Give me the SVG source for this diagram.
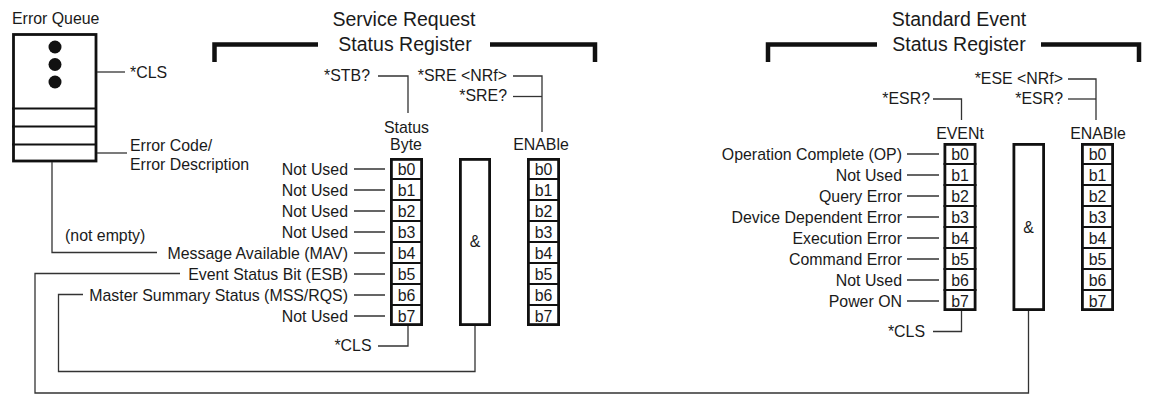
<svg xmlns="http://www.w3.org/2000/svg" width="1152" height="395" viewBox="0 0 1152 395">
  <style>
    text { font-family: "Liberation Sans", Arial, Helvetica, sans-serif; font-size: 15.9px; fill: #1a1a1a; }
    .title { font-size: 19.5px; text-anchor: middle; }
    .mid { text-anchor: middle; }
    .end { text-anchor: end; }
    .wire { fill: none; stroke: #333; stroke-width: 1.3; }
    .frame { fill: #fff; stroke: #111; stroke-width: 2.8; }
    .div { stroke: #111; stroke-width: 2.2; }
    .bracket { fill: none; stroke: #111; stroke-width: 4.5; stroke-linejoin: miter; stroke-linecap: butt; }
  </style>

  <!-- Error queue -->
  <g id="error-queue">
    <text x="12" y="24">Error Queue</text>
    <rect class="frame" x="13.5" y="34.5" width="82.5" height="126.5"/>
    <line class="div" x1="12" y1="108.5" x2="97" y2="108.5"/>
    <line class="div" x1="12" y1="126.5" x2="97" y2="126.5"/>
    <line class="div" x1="12" y1="144.5" x2="97" y2="144.5"/>
    <circle cx="55" cy="47" r="6.5" fill="#111"/>
    <circle cx="55" cy="64.5" r="6.5" fill="#111"/>
    <circle cx="55" cy="82" r="6.5" fill="#111"/>
    <text x="130" y="77.5">*CLS</text>
    <text x="130" y="150.5">Error Code/</text>
    <text x="130" y="169.5">Error Description</text>
    <text x="65" y="240.5">(not empty)</text>
  </g>

  <!-- Service Request Status Register -->
  <g id="sr-title">
    <text class="title" x="404" y="25.5">Service Request</text>
    <text class="title" x="405" y="51">Status Register</text>
    <path class="bracket" d="M214.5,62 V44.5 H318"/>
    <path class="bracket" d="M490,44.5 H595 V62"/>
  </g>

  <g id="sr-commands">
    <text class="end" x="370" y="80.5">*STB?</text>
    <text class="end" x="507" y="80.5">*SRE &lt;NRf&gt;</text>
    <text class="end" x="507" y="101">*SRE?</text>
    <text class="mid" x="406.5" y="132.5">Status</text>
    <text class="mid" x="406" y="150">Byte</text>
    <text class="mid" x="541" y="149.5">ENABle</text>
    <text class="end" x="371.5" y="351">*CLS</text>
  </g>

  <g id="sr-labels">
    <text class="end" x="348" y="174.5">Not Used</text>
    <text class="end" x="348" y="195.5">Not Used</text>
    <text class="end" x="348" y="216.5">Not Used</text>
    <text class="end" x="348" y="237.5">Not Used</text>
    <text class="end" x="348" y="258.5">Message Available (MAV)</text>
    <text class="end" x="348" y="279.5">Event Status Bit (ESB)</text>
    <text class="end" x="348" y="300.5">Master Summary Status (MSS/RQS)</text>
    <text class="end" x="348" y="321.5">Not Used</text>
  </g>

  <g id="sr-status-byte">
    <rect class="frame" x="391.4" y="159.4" width="30.2" height="165.2"/>
    <path class="div" d="M390,179 H423 M390,200 H423 M390,221 H423 M390,242 H423 M390,263 H423 M390,284 H423 M390,305 H423"/>
    <text class="mid" x="406.5" y="174.5">b0</text>
    <text class="mid" x="406.5" y="195.5">b1</text>
    <text class="mid" x="406.5" y="216.5">b2</text>
    <text class="mid" x="406.5" y="237.5">b3</text>
    <text class="mid" x="406.5" y="258.5">b4</text>
    <text class="mid" x="406.5" y="279.5">b5</text>
    <text class="mid" x="406.5" y="300.5">b6</text>
    <text class="mid" x="406.5" y="321.5">b7</text>
  </g>

  <g id="sr-and">
    <rect class="frame" x="460.4" y="159.4" width="29.2" height="165.2"/>
    <text class="mid" x="475" y="247">&amp;</text>
  </g>

  <g id="sr-enable">
    <rect class="frame" x="528.4" y="159.4" width="30.2" height="165.2"/>
    <path class="div" d="M527,179 H560 M527,200 H560 M527,221 H560 M527,242 H560 M527,263 H560 M527,284 H560 M527,305 H560"/>
    <text class="mid" x="543.5" y="174.5">b0</text>
    <text class="mid" x="543.5" y="195.5">b1</text>
    <text class="mid" x="543.5" y="216.5">b2</text>
    <text class="mid" x="543.5" y="237.5">b3</text>
    <text class="mid" x="543.5" y="258.5">b4</text>
    <text class="mid" x="543.5" y="279.5">b5</text>
    <text class="mid" x="543.5" y="300.5">b6</text>
    <text class="mid" x="543.5" y="321.5">b7</text>
  </g>

  <!-- Standard Event Status Register -->
  <g id="ses-title">
    <text class="title" x="959" y="25.5">Standard Event</text>
    <text class="title" x="959" y="51">Status Register</text>
    <path class="bracket" d="M768,62 V44.5 H877"/>
    <path class="bracket" d="M1041,44.5 H1139 V62"/>
  </g>

  <g id="ses-commands">
    <text class="end" x="1063" y="83.5">*ESE &lt;NRf&gt;</text>
    <text class="end" x="1063" y="103.5">*ESR?</text>
    <text class="end" x="930" y="103.5">*ESR?</text>
    <text class="mid" x="960" y="138.5">EVENt</text>
    <text class="mid" x="1098" y="138.5">ENABle</text>
    <text class="end" x="925" y="337">*CLS</text>
  </g>

  <g id="ses-labels">
    <text class="end" x="902" y="159.5">Operation Complete (OP)</text>
    <text class="end" x="902" y="180.5">Not Used</text>
    <text class="end" x="902" y="201.5">Query Error</text>
    <text class="end" x="902" y="222.5">Device Dependent Error</text>
    <text class="end" x="902" y="243.5">Execution Error</text>
    <text class="end" x="902" y="264.5">Command Error</text>
    <text class="end" x="902" y="285.5">Not Used</text>
    <text class="end" x="902" y="306.5">Power ON</text>
  </g>

  <g id="ses-event">
    <rect class="frame" x="944.9" y="144.4" width="30.2" height="165.2"/>
    <path class="div" d="M943.5,164 H976.5 M943.5,185 H976.5 M943.5,206 H976.5 M943.5,227 H976.5 M943.5,248 H976.5 M943.5,269 H976.5 M943.5,290 H976.5"/>
    <text class="mid" x="960" y="159.5">b0</text>
    <text class="mid" x="960" y="180.5">b1</text>
    <text class="mid" x="960" y="201.5">b2</text>
    <text class="mid" x="960" y="222.5">b3</text>
    <text class="mid" x="960" y="243.5">b4</text>
    <text class="mid" x="960" y="264.5">b5</text>
    <text class="mid" x="960" y="285.5">b6</text>
    <text class="mid" x="960" y="306.5">b7</text>
  </g>

  <g id="ses-and">
    <rect class="frame" x="1013.9" y="144.4" width="29.7" height="165.2"/>
    <text class="mid" x="1028.5" y="233">&amp;</text>
  </g>

  <g id="ses-enable">
    <rect class="frame" x="1082.4" y="144.4" width="30.2" height="165.2"/>
    <path class="div" d="M1081,164 H1114 M1081,185 H1114 M1081,206 H1114 M1081,227 H1114 M1081,248 H1114 M1081,269 H1114 M1081,290 H1114"/>
    <text class="mid" x="1097.5" y="159.5">b0</text>
    <text class="mid" x="1097.5" y="180.5">b1</text>
    <text class="mid" x="1097.5" y="201.5">b2</text>
    <text class="mid" x="1097.5" y="222.5">b3</text>
    <text class="mid" x="1097.5" y="243.5">b4</text>
    <text class="mid" x="1097.5" y="264.5">b5</text>
    <text class="mid" x="1097.5" y="285.5">b6</text>
    <text class="mid" x="1097.5" y="306.5">b7</text>
  </g>

  <!-- connectors -->
  <g id="connectors" class="wire">
    <!-- error queue -->
    <path d="M97,72 H125"/>
    <path d="M97,153 H127"/>
    <path d="M52,162 V252.5 H157"/>
    <!-- status byte inputs -->
    <path d="M354,169 H385 M354,190 H385 M354,211 H385 M354,232 H385 M354,253 H385 M354,274 H385 M354,295 H385 M354,316 H385"/>
    <!-- commands -->
    <path d="M378,76 H408 V113"/>
    <path d="M513,76 H542 V132"/>
    <path d="M513,96.5 H542"/>
    <path d="M378,346 H408 V326"/>
    <!-- summary feedback -->
    <path d="M83,294.5 H58.5 V371.5 H475 V326"/>
    <path d="M180,273.5 H35 V393 H1028.5 V311"/>
    <!-- event register inputs -->
    <path d="M907,154 H939 M907,175 H939 M907,196 H939 M907,217 H939 M907,238 H939 M907,259 H939 M907,280 H939 M907,301 H939"/>
    <path d="M933,99 H961.5 V120"/>
    <path d="M1068,79 H1096 V120"/>
    <path d="M1068,99 H1096"/>
    <path d="M933,331.5 H961.5 V311"/>
  </g>
</svg>
